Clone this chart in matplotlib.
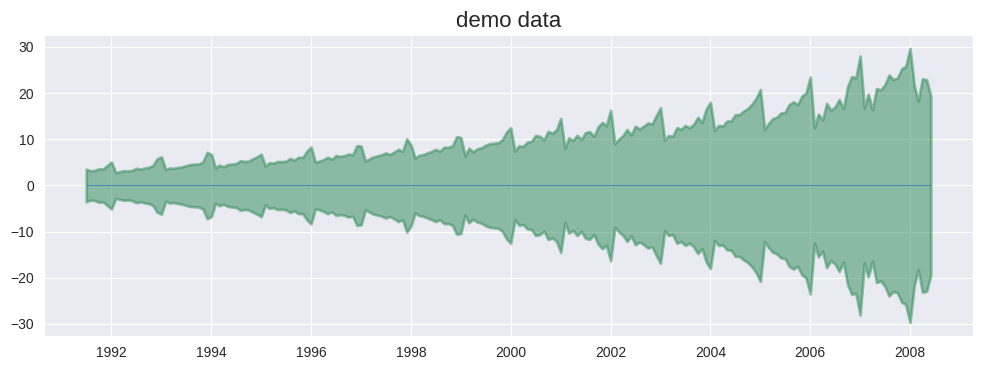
import matplotlib
matplotlib.use("Agg")
import matplotlib.pyplot as plt
import numpy as np
import pandas as pd
import seaborn as sns

# monthly values, Jul 1991 .. Jun 2008
start = "1991-07-01"
values = [
    3.526591, 3.180891, 3.252221, 3.611003, 3.565869, 4.306371,
    5.088335, 2.814520, 2.985811, 3.204780, 3.127578, 3.270523, 3.737851, 3.558776, 3.777202, 3.924490, 4.386531, 5.810549,
    6.192068, 3.450857, 3.772307, 3.734303, 3.905399, 4.049687, 4.315566, 4.562185, 4.608662, 4.667851, 5.093841, 7.179962,
    6.731473, 3.841278, 4.394076, 4.075341, 4.540645, 4.645615, 4.752607, 5.350605, 5.204455, 5.301651, 5.773742, 6.204593,
    6.749484, 4.216067, 4.949349, 4.823045, 5.194754, 5.170787, 5.256742, 5.855277, 5.490729, 6.115293, 6.088473, 7.416598,
    8.329452, 5.069796, 5.262557, 5.597126, 6.110296, 5.689161, 6.486849, 6.300569, 6.467476, 6.828629, 6.649078, 8.606937,
    8.524471, 5.277918, 5.714303, 6.214529, 6.411929, 6.667716, 7.050831, 6.704919, 7.250988, 7.819733, 7.398101, 10.096233,
    8.798513, 5.918261, 6.534493, 6.675736, 7.064201, 7.383381, 7.813496, 7.431892, 8.275117, 8.260441, 8.596156, 10.558939,
    10.391416, 6.421535, 8.062619, 7.297739, 7.936916, 8.165323, 8.717420, 9.070964, 9.177113, 9.251887, 9.933136, 11.532974,
    12.511462, 7.457199, 8.591191, 8.474000, 9.386803, 9.560399, 10.834295, 10.643751, 9.908162, 11.710041, 11.340151, 12.079132,
    14.497581, 8.049275, 10.312891, 9.753358, 10.850382, 9.961719, 11.443601, 11.659239, 10.647060, 12.652134, 13.674466, 12.965735,
    16.300269, 9.053485, 10.002449, 10.788750, 12.106705, 10.954101, 12.844566, 12.196500, 12.854748, 13.542004, 13.287640, 15.134918,
    16.828350, 9.800215, 10.816994, 10.654223, 12.512323, 12.161210, 12.998046, 12.517276, 13.268658, 14.733622, 13.669382, 16.503966,
    18.003768, 11.938030, 12.997900, 12.882645, 13.943447, 13.989472, 15.339097, 15.370764, 16.142005, 16.685754, 17.636728, 18.869325,
    20.778723, 12.154552, 13.402392, 14.459239, 14.795102, 15.705248, 15.829550, 17.554701, 18.100864, 17.496668, 19.347265, 20.031291,
    23.486694, 12.536987, 15.467018, 14.233539, 17.783058, 16.291602, 16.980282, 18.612189, 16.623343, 21.430241, 23.575517, 23.334206,
    28.038383, 16.763869, 19.792754, 16.427305, 21.000742, 20.681002, 21.834890, 23.930204, 22.930357, 23.263340, 25.250030, 25.806090,
    29.665356, 21.654285, 18.264945, 23.107677, 22.912510, 19.431740,
]
title = "demo data"

sns.set_style("darkgrid")
plt.rcParams["font.family"] = ["Liberation Sans", "DejaVu Sans"]

dates = pd.date_range(start, periods=len(values), freq="MS")
y = np.array(values)

fig, ax = plt.subplots(figsize=(9.83, 3.68), dpi=100)
fig.subplots_adjust(left=0.0448, right=0.9898, top=0.905, bottom=0.087)

ax.fill_between(dates, y1=y, y2=-y, alpha=0.5, linewidth=2, color="seagreen")
ax.hlines(y=0, xmin=dates.min(), xmax=dates.max(), linewidth=0.5, color="C0")

ax.set_ylim(-32.6, 32.6)
ax.set_yticks([-30, -20, -10, 0, 10, 20, 30])
ax.set_title(title, fontsize=16)
ax.tick_params(labelsize=10)

fig.savefig("out.png", dpi=100)
